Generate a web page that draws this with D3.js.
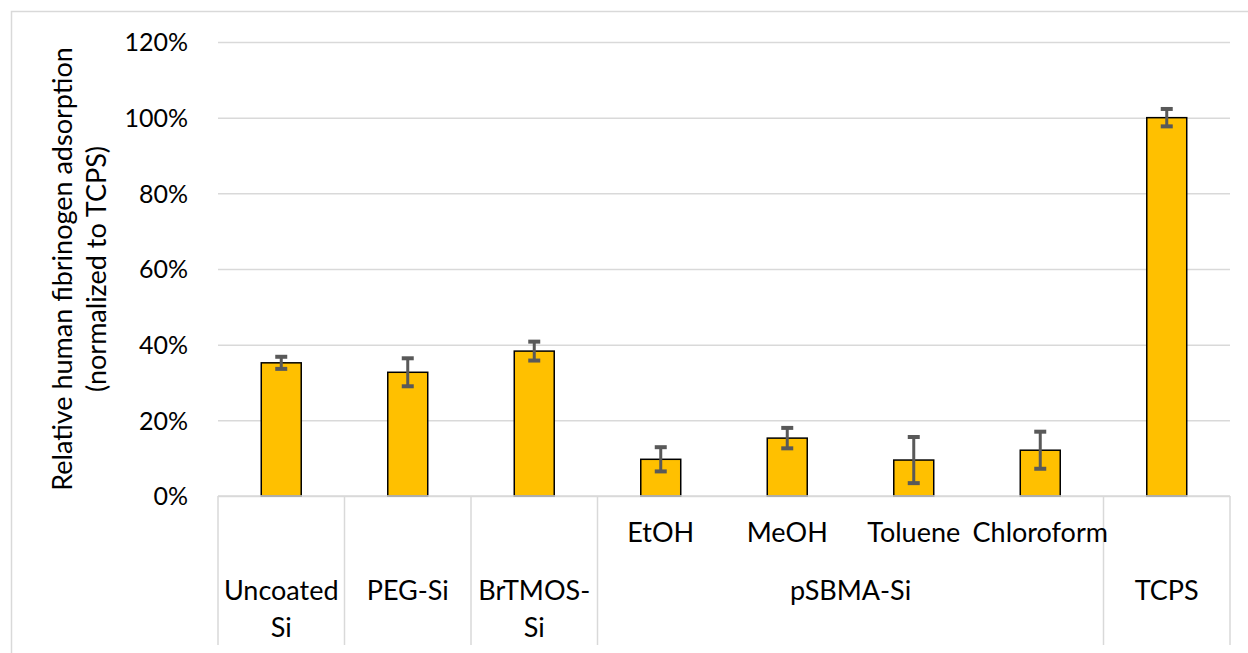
<!DOCTYPE html>
<html>
<head>
<meta charset="utf-8">
<script src="https://cdn.jsdelivr.net/npm/d3@7"></script>
<style>
  html, body { margin: 0; padding: 0; background: #fff; }
  svg { display: block; }
  text { font-family: Lato, "Open Sans", sans-serif; fill: #000; }
</style>
</head>
<body>
<svg id="chart" width="1248" height="653"></svg>
<script>
// Relative human fibrinogen adsorption, normalized to TCPS (%)
const subLabels = ["", "", "", "EtOH", "MeOH", "Toluene", "Chloroform", ""];
const values = [35.2, 32.7, 38.3, 9.7, 15.3, 9.5, 12.1, 100];
const errors = [1.6, 3.7, 2.5, 3.2, 2.7, 6.1, 4.9, 2.3];
// Outer category groups: label lines and how many bars each spans
const groupLines = [["Uncoated", "Si"], ["PEG-Si"], ["BrTMOS-", "Si"], ["pSBMA-Si"], ["TCPS"]];
const groupSpans = [1, 1, 1, 4, 1];
const yTicks = [0, 20, 40, 60, 80, 100, 120];
const yTitle = ["Relative human fibrinogen adsorption", "(normalized to TCPS)"];

const svg = d3.select("#chart");
const plotLeft = 218, plotRight = 1230, plotTop = 42, plotBase = 496;
const labelSize = "27px";

const x = d3.scaleBand()
  .domain(d3.range(values.length))
  .range([plotLeft, plotRight])
  .paddingInner(0.684)
  .paddingOuter(0.342);
const y = d3.scaleLinear().domain([0, 120]).range([plotBase, plotTop]);

// outer frame
svg.append("rect")
  .attr("x", 11.5).attr("y", 11.5)
  .attr("width", 1260).attr("height", 660)
  .attr("fill", "none").attr("stroke", "#d9d9d9").attr("stroke-width", 1.5);

// gridlines and tick labels
const yAxis = d3.axisLeft(y).tickValues(yTicks).tickSize(-(plotRight - plotLeft)).tickFormat(d => d + "%");
const gy = svg.append("g").attr("transform", `translate(${plotLeft},0)`).call(yAxis);
gy.select(".domain").remove();
gy.selectAll(".tick line").attr("stroke", "#d9d9d9").attr("stroke-width", 1.5);
gy.selectAll(".tick text")
  .attr("x", -30).attr("dy", "0.35em")
  .style("font-size", "25px").style("font-family", "Lato, sans-serif").attr("fill", "#000");

// bars
svg.append("g").selectAll("rect")
  .data(values)
  .join("rect")
  .attr("x", (d, i) => x(i))
  .attr("width", x.bandwidth())
  .attr("y", d => y(d))
  .attr("height", d => y(0) - y(d))
  .attr("fill", "#FFC000")
  .attr("stroke", "#000")
  .attr("stroke-width", 1.5);

// error bars
const eg = svg.append("g").attr("stroke", "#595959");
values.forEach((v, i) => {
  const cx = x(i) + x.bandwidth() / 2;
  const y1 = y(v + errors[i]), y2 = y(v - errors[i]);
  eg.append("line").attr("x1", cx).attr("x2", cx).attr("y1", y1).attr("y2", y2).attr("stroke-width", 3);
  [y1, y2].forEach(yy => {
    eg.append("line").attr("x1", cx - 6).attr("x2", cx + 6).attr("y1", yy).attr("y2", yy).attr("stroke-width", 4);
  });
});

// category axis: baseline and group separators
const axisG = svg.append("g");
axisG.append("line")
  .attr("x1", plotLeft).attr("x2", plotRight).attr("y1", plotBase).attr("y2", plotBase)
  .attr("stroke", "#d9d9d9").attr("stroke-width", 1.5);

let idx = 0;
const bounds = [plotLeft];
groupSpans.forEach(s => {
  idx += s;
  bounds.push(idx < values.length ? x(idx) - x.step() * x.paddingInner() / 2 : plotRight);
});
bounds.forEach(bx => {
  axisG.append("line")
    .attr("x1", bx).attr("x2", bx).attr("y1", plotBase).attr("y2", 645)
    .attr("stroke", "#d9d9d9").attr("stroke-width", 1.5);
});

// inner (sub) labels
svg.append("g").selectAll("text")
  .data(subLabels)
  .join("text")
  .attr("x", (d, i) => x(i) + x.bandwidth() / 2)
  .attr("y", 533)
  .attr("dy", "0.35em")
  .attr("text-anchor", "middle")
  .style("font-size", labelSize)
  .text(d => d);

// outer group labels
groupLines.forEach((lines, g) => {
  const cx = (bounds[g] + bounds[g + 1]) / 2;
  lines.forEach((t, k) => {
    svg.append("text")
      .attr("x", cx).attr("y", 591 + k * 37)
      .attr("dy", "0.35em")
      .attr("text-anchor", "middle")
      .style("font-size", labelSize)
      .text(t);
  });
});

// y-axis title
const yt = svg.append("text")
  .attr("transform", `translate(0,${(plotTop + plotBase) / 2}) rotate(-90)`)
  .attr("text-anchor", "middle")
  .style("font-size", labelSize);
yTitle.forEach((t, k) => {
  yt.append("tspan").attr("x", 0).attr("y", 72 + k * 34).text(t);
});
</script>
</body>
</html>
